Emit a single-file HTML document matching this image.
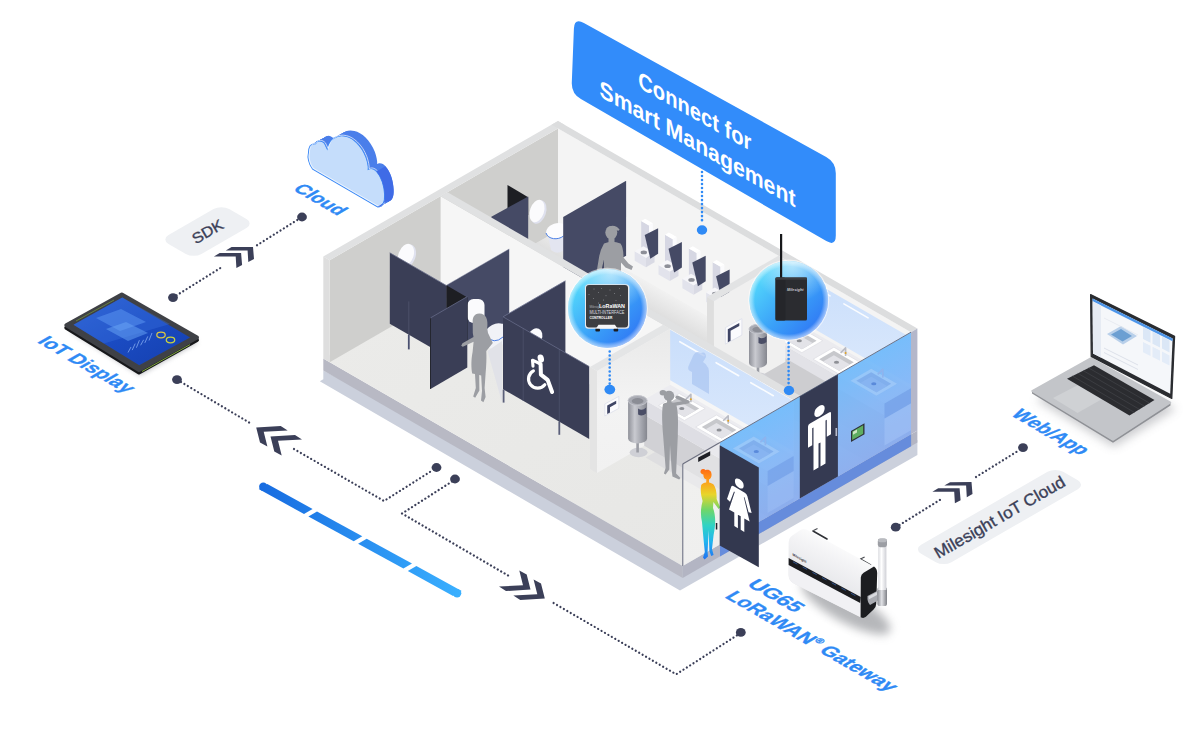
<!DOCTYPE html>
<html lang="en"><head><meta charset="utf-8"><title>Connect for Smart Management</title><style>html,body{margin:0;padding:0;background:#fff}body{width:1199px;height:736px;overflow:hidden;position:relative}svg{display:block;position:absolute;left:0;top:0}text{font-family:"Liberation Sans",Arial,sans-serif}</style></head><body><svg width="1199" height="736" viewBox="0 0 1199 736"><defs><linearGradient id="gFloor" x1="0" y1="0" x2="1" y2="1"><stop offset="0" stop-color="#ececea"/><stop offset="1" stop-color="#e6e6e4"/></linearGradient>
<linearGradient id="gMenFloor" gradientUnits="userSpaceOnUse" x1="638.2" y1="276.7" x2="622.2" y2="304.4"><stop offset="0" stop-color="#f1f1f1"/><stop offset="1" stop-color="#d7d7d7"/></linearGradient>
<linearGradient id="gMirror" x1="0" y1="0" x2="0" y2="1"><stop offset="0" stop-color="#c9defb"/><stop offset="1" stop-color="#dce9fc"/></linearGradient>
<linearGradient id="gCan3" x1="0" y1="0" x2="1" y2="0"><stop offset="0" stop-color="#8f9199"/><stop offset="0.35" stop-color="#c9cad0"/><stop offset="0.7" stop-color="#a4a6ae"/><stop offset="1" stop-color="#85878f"/></linearGradient>
<linearGradient id="gS1" x1="0" y1="0" x2="0" y2="1"><stop offset="0" stop-color="#e9e9e9"/><stop offset="0.5" stop-color="#f3f3f3"/><stop offset="1" stop-color="#f1f1f1"/></linearGradient>
<linearGradient id="gCan5" x1="0" y1="0" x2="1" y2="0"><stop offset="0" stop-color="#8f9199"/><stop offset="0.35" stop-color="#c9cad0"/><stop offset="0.7" stop-color="#a4a6ae"/><stop offset="1" stop-color="#85878f"/></linearGradient>
<linearGradient id="gGlass" gradientUnits="userSpaceOnUse" x1="910.5" y1="332.5" x2="954.6" y2="409"><stop offset="0" stop-color="#6fbafb" stop-opacity="0.92"/><stop offset="0.5" stop-color="#7db3f7" stop-opacity="0.88"/><stop offset="1" stop-color="#86abf0" stop-opacity="0.9"/></linearGradient>
<linearGradient id="gThermal" gradientUnits="userSpaceOnUse" x1="0" y1="469" x2="0" y2="560"><stop offset="0" stop-color="#ff6a13"/><stop offset="0.12" stop-color="#ff9a1a"/><stop offset="0.28" stop-color="#e8d52a"/><stop offset="0.45" stop-color="#6fd66a"/><stop offset="0.62" stop-color="#2fd3c4"/><stop offset="0.8" stop-color="#22b4f0"/><stop offset="1" stop-color="#1f6ff0"/></linearGradient>
<linearGradient id="gBub" x1="0.1" y1="0.15" x2="0.9" y2="0.9"><stop offset="0" stop-color="#55dcfc"/><stop offset="0.55" stop-color="#3aa0f8"/><stop offset="1" stop-color="#2f74f4"/></linearGradient>
<radialGradient id="gBubHi" cx="0.5" cy="0.5" r="0.5"><stop offset="0.86" stop-color="#fff" stop-opacity="0"/><stop offset="0.93" stop-color="#fff" stop-opacity="0.3"/><stop offset="1" stop-color="#fff" stop-opacity="0.55"/></radialGradient>
<radialGradient id="gBubTop" cx="0.55" cy="0.04" r="0.5"><stop offset="0" stop-color="#fff" stop-opacity="0.6"/><stop offset="1" stop-color="#fff" stop-opacity="0"/></radialGradient>
<linearGradient id="gBar" gradientUnits="userSpaceOnUse" x1="259" y1="0" x2="461" y2="0"><stop offset="0" stop-color="#176be0"/><stop offset="1" stop-color="#3ab0ff"/></linearGradient>
<filter id="fBlur6" x="-30%" y="-30%" width="160%" height="160%"><feGaussianBlur stdDeviation="5"/></filter>
<filter id="fBlur3" x="-30%" y="-30%" width="160%" height="160%"><feGaussianBlur stdDeviation="2.5"/></filter>
<linearGradient id="gTab" x1="0" y1="0" x2="1" y2="1"><stop offset="0" stop-color="#2a5fd0"/><stop offset="0.5" stop-color="#1a4bc2"/><stop offset="1" stop-color="#153fae"/></linearGradient>
<linearGradient id="gUgBody" gradientUnits="userSpaceOnUse" x1="846" y1="540" x2="824" y2="584"><stop offset="0" stop-color="#ffffff"/><stop offset="0.45" stop-color="#f3f3f5"/><stop offset="1" stop-color="#e6e7ea"/></linearGradient>
<linearGradient id="gAnt" x1="0" y1="0" x2="1" y2="0"><stop offset="0" stop-color="#dcdde1"/><stop offset="0.4" stop-color="#ffffff"/><stop offset="1" stop-color="#cfd0d6"/></linearGradient>
<linearGradient id="gMetal" x1="0" y1="0" x2="1" y2="0"><stop offset="0" stop-color="#8b8d93"/><stop offset="0.45" stop-color="#e1e2e6"/><stop offset="1" stop-color="#7f8187"/></linearGradient></defs><polygon points="319.8,381.3 680,590.5 917.4,455 917.4,440 683,560 323.3,370.5 323.3,379.3" fill="#cbd0dc" />
<polygon points="323.3,358.5 682.7,566 682.7,578 323.3,370.5" fill="#b8b9c4" />
<polygon points="682.7,566 917.4,430.5 917.4,442.5 682.7,578" fill="#b3b5c3" />
<polygon points="558,223 917.4,430.5 682.7,566 323.3,358.5" fill="url(#gFloor)" />
<polygon points="558,230.4 911,434.2 800.5,498 447.5,294.2" fill="#efefee" />
<polygon points="558,230.4 778.5,357.7 741.6,379 521.1,251.7" fill="url(#gMenFloor)" />
<polygon points="558,128.4 329.7,260.2 329.7,362.2 558,230.4" fill="#cfcfcd" />
<polygon points="558,128.4 911,332.2 911,434.2 558,230.4" fill="#f4f4f4" />
<polygon points="558,121 564.4,124.7 329.7,260.2 323.3,256.5" fill="#e0e1e2" />
<polygon points="558,121 917.4,328.5 911,332.2 551.6,124.7" fill="#dcddde" />
<polygon points="323.3,256.5 329.7,260.2 329.7,362.2 323.3,358.5" fill="#dedede" />
<ellipse cx="538.5" cy="212" rx="7.5" ry="12" fill="#dfe1ee" transform="rotate(18 538.5 212)"/>
<ellipse cx="537" cy="211" rx="7" ry="11.5" fill="#fbfbfd" transform="rotate(18 537 211)"/>
<polygon points="507.5,185 528.2,197.3 528.2,215 507.5,215" fill="#1d1e23" />
<polygon points="491.3,216.7 528.2,196.6 528.2,245 491.3,224" fill="#454a65" />
<path d="M548,236 L551,250 Q557,255 563.5,250.5 L563.5,236 Z" fill="#e3e5f0"/>
<path d="M546,233 C546,226 556,221 563.5,224 L563.5,236 C558,240.5 548,239.5 546,233 Z" fill="#fcfcfe"/>
<path d="M546,233 C548,239.5 558,240.5 563.5,236" fill="none" stroke="#4a7fe6" stroke-width="1"/>
<polygon points="626.1,180.7 563.2,217 563.2,292 626.1,255.7" fill="#454a65" />
<polygon points="641.2,220.9 649,225.4 649,257.4 641.2,252.9" fill="#d6d7e3" />
<polygon points="652.9,223.2 649,225.4 649,257.4 652.9,255.2" fill="#fbfbfd" />
<polygon points="645.1,218.7 652.9,223.2 649,225.4 641.2,220.9" fill="#ffffff" />
<polygon points="634.7,251.2 646,257.7 646,267.2 634.7,260.7" fill="#e2e3ec" />
<polygon points="654.6,252.7 646,257.7 646,267.2 654.6,262.2" fill="#d9dae4" />
<polygon points="643.4,246.2 654.6,252.7 646,257.7 634.7,251.2" fill="#f6f6f9" />
<ellipse cx="643.8" cy="252.4" rx="3.2" ry="1.9" fill="#8d8f98"/>
<polygon points="644.7,234.9 658.1,228.2 658.1,253.7 650.3,258.7" fill="#454a65" />
<polygon points="665,234.7 672.8,239.2 672.8,271.2 665,266.7" fill="#d6d7e3" />
<polygon points="676.7,236.9 672.8,239.2 672.8,271.2 676.7,268.9" fill="#fbfbfd" />
<polygon points="668.9,232.4 676.7,236.9 672.8,239.2 665,234.7" fill="#ffffff" />
<polygon points="658.5,264.9 669.8,271.4 669.8,280.9 658.5,274.4" fill="#e2e3ec" />
<polygon points="678.5,266.4 669.8,271.4 669.8,280.9 678.5,275.9" fill="#d9dae4" />
<polygon points="667.2,259.9 678.5,266.4 669.8,271.4 658.5,264.9" fill="#f6f6f9" />
<ellipse cx="667.6" cy="266.2" rx="3.2" ry="1.9" fill="#8d8f98"/>
<polygon points="668.5,248.7 681.9,241.9 681.9,267.4 674.1,272.4" fill="#454a65" />
<polygon points="688.9,248.4 696.7,252.9 696.7,284.9 688.9,280.4" fill="#d6d7e3" />
<polygon points="700.5,250.7 696.7,252.9 696.7,284.9 700.5,282.7" fill="#fbfbfd" />
<polygon points="692.8,246.2 700.5,250.7 696.7,252.9 688.9,248.4" fill="#ffffff" />
<polygon points="682.4,278.7 693.6,285.2 693.6,294.7 682.4,288.2" fill="#e2e3ec" />
<polygon points="702.3,280.2 693.6,285.2 693.6,294.7 702.3,289.7" fill="#d9dae4" />
<polygon points="691,273.7 702.3,280.2 693.6,285.2 682.4,278.7" fill="#f6f6f9" />
<ellipse cx="691.5" cy="279.9" rx="3.2" ry="1.9" fill="#8d8f98"/>
<polygon points="692.3,262.4 705.7,255.7 705.7,281.2 697.9,286.2" fill="#454a65" />
<polygon points="712.7,262.2 720.5,266.7 720.5,298.7 712.7,294.2" fill="#d6d7e3" />
<polygon points="724.4,264.4 720.5,266.7 720.5,298.7 724.4,296.4" fill="#fbfbfd" />
<polygon points="716.6,259.9 724.4,264.4 720.5,266.7 712.7,262.2" fill="#ffffff" />
<polygon points="706.2,292.4 717.4,298.9 717.4,308.4 706.2,301.9" fill="#e2e3ec" />
<polygon points="726.1,293.9 717.4,298.9 717.4,308.4 726.1,303.4" fill="#d9dae4" />
<polygon points="714.8,287.4 726.1,293.9 717.4,298.9 706.2,292.4" fill="#f6f6f9" />
<ellipse cx="715.3" cy="293.7" rx="3.2" ry="1.9" fill="#8d8f98"/>
<polygon points="716.1,276.2 729.6,269.4 729.6,294.9 721.8,299.9" fill="#454a65" />
<g fill="#9c9ea3"><ellipse cx="611.3" cy="232.6" rx="6" ry="6.6"/><path d="M606,228.5 q5,-4.5 11,-1.5 l2.6,2.6 l-1,1.2 l-6,-1 z"/><rect x="608.5" y="237" width="6" height="6"/><path d="M604,243.5 q8,-3.5 16.5,0 q3,4 3,14 l5,6 l4.5,3 l-1.5,3.5 l-6,-2.5 l-4.5,-5 l0,12 l-17,0 l0,-15 l-2,8 l-0.5,8 l-3,0 l-1.5,-6 l2,-12 q1,-7 5,-14 z"/></g>
<polygon points="793.6,269.9 910.6,337.4 910.6,384.4 793.6,316.9" fill="url(#gMirror)" />
<line x1="804" y1="280.9" x2="830" y2="295.9" stroke="#ffffff" stroke-width="1.6" stroke-linecap="round" opacity="0.9"/>
<line x1="843.9" y1="303.9" x2="868.1" y2="317.9" stroke="#ffffff" stroke-width="1.6" stroke-linecap="round" opacity="0.9"/>
<polygon points="758.9,377 884.5,449.5 800.5,498 674.9,425.5" fill="#dddddd" />
<polygon points="758.9,377 884.5,449.5 865.4,460.5 739.9,388" fill="#d2d2d4" />
<polygon points="758.9,331 884.5,403.5 884.5,449.5 758.9,377" fill="#cdcdd0" />
<polygon points="911,388.2 884.5,403.5 884.5,449.5 911,434.2" fill="#c9cad2" />
<polygon points="785.4,315.7 911,388.2 884.5,403.5 758.9,331" fill="#ebebef" />
<polygon points="758.9,331 884.5,403.5 884.5,415.5 758.9,343" fill="#e2e2e7" />
<polygon points="796.7,325.7 822.7,340.7 801.9,352.7 775.9,337.7" fill="#ffffff" stroke="#dcdde3" stroke-width="0.7"/>
<polygon points="796.7,329.2 816.6,340.7 801.9,349.2 782,337.7" fill="#c7c8cc" />
<polygon points="796.7,333.7 812.7,342.9 801.9,349.2 785.9,339.9" fill="#e3e3e8" />
<ellipse cx="799.3" cy="340.7" rx="2.6" ry="1.5" fill="#8e9096"/>
<path d="M808.4,334.4 l0,-8 l-5,5" fill="none" stroke="#b9bbc4" stroke-width="1.6" stroke-linejoin="round"/>
<circle cx="808.4" cy="331.4" r="1" fill="#e0a325"/>
<polygon points="833.9,347.2 859.9,362.2 839.1,374.2 813.1,359.2" fill="#ffffff" stroke="#dcdde3" stroke-width="0.7"/>
<polygon points="833.9,350.7 853.8,362.2 839.1,370.7 819.2,359.2" fill="#c7c8cc" />
<polygon points="833.9,355.2 849.9,364.4 839.1,370.7 823.1,361.4" fill="#e3e3e8" />
<ellipse cx="836.5" cy="362.2" rx="2.6" ry="1.5" fill="#8e9096"/>
<path d="M845.6,355.9 l0,-8 l-5,5" fill="none" stroke="#b9bbc4" stroke-width="1.6" stroke-linejoin="round"/>
<circle cx="845.6" cy="352.9" r="1" fill="#e0a325"/>
<polygon points="871.2,368.7 897.1,383.7 876.4,395.7 850.4,380.7" fill="#ffffff" stroke="#dcdde3" stroke-width="0.7"/>
<polygon points="871.2,372.2 891.1,383.7 876.4,392.2 856.4,380.7" fill="#c7c8cc" />
<polygon points="871.2,376.7 887.2,385.9 876.4,392.2 860.3,382.9" fill="#e3e3e8" />
<ellipse cx="873.8" cy="383.7" rx="2.6" ry="1.5" fill="#8e9096"/>
<path d="M882.8,377.4 l0,-8 l-5,5" fill="none" stroke="#b9bbc4" stroke-width="1.6" stroke-linejoin="round"/>
<circle cx="882.8" cy="374.4" r="1" fill="#e0a325"/>
<polygon points="785.4,259.7 713.9,301 713.9,403 785.4,361.7" fill="#f0f0f0" />
<polygon points="707,297 713.9,301 713.9,403 707,399" fill="#dedede" />
<polygon points="778.5,255.7 785.4,259.7 713.9,301 707,297" fill="#e2e3e4" />
<g transform="translate(725.4 327.6)"><polygon points="0,0 16.5,-9 16.5,7.5 0,16.5" fill="#fbfbfd" stroke="#dcdeea" stroke-width="0.8" stroke-linejoin="round"/><polygon points="2.4,1.6 13.9,-4.6 13.9,-1.6 5.2,3.2 5.2,13.1 2.4,14.6" fill="#3f4565"/></g>
<ellipse cx="759" cy="377" rx="8.5" ry="4.4" fill="#cfd0d6"/>
<rect x="756.7" y="365" width="2.6" height="12" fill="#9a9ca4"/>
<path d="M749,329 v34 a9,4.7 0 0 0 18,0 v-34 z" fill="url(#gCan3)"/>
<ellipse cx="758" cy="329" rx="9" ry="4.7" fill="#a9abb3" stroke="#c4c5cc" stroke-width="1"/>
<ellipse cx="758" cy="329.5" rx="5.6" ry="2.8" fill="#8b8d95"/>
<path d="M758.5,337 q4,3 8,-1 l0,6 q-4,3.5 -8,1 z" fill="#4a4e66"/>
<polygon points="440.6,196.2 793.6,400 793.6,502 440.6,298.2" fill="#f6f6f6" />
<polygon points="447.5,192.2 800.5,396 793.6,400 440.6,196.2" fill="#e0e1e2" />
<polygon points="669.8,329.4 793.2,400.7 793.2,451.2 669.8,379.9" fill="url(#gMirror)" />
<line x1="679.8" y1="341.7" x2="704" y2="355.7" stroke="#ffffff" stroke-width="1.6" stroke-linecap="round" opacity="0.9"/>
<line x1="716.1" y1="362.7" x2="738.7" y2="375.7" stroke="#ffffff" stroke-width="1.6" stroke-linecap="round" opacity="0.9"/>
<line x1="750.8" y1="382.7" x2="773.3" y2="395.7" stroke="#ffffff" stroke-width="1.6" stroke-linecap="round" opacity="0.9"/>
<path d="M693,356 q3,-6 8,-3 q5,-2 5,4 l-3,5 q7,4 6,14 l0,18 l-17,-10 l0,-12 q-6,-2 -3,-7 z" fill="#a9c5f1" opacity="0.7"/>
<ellipse cx="407.5" cy="256" rx="8" ry="12" fill="#e0e2ef" transform="rotate(20 407.5 256)"/>
<ellipse cx="406" cy="255" rx="7.5" ry="11.5" fill="#fbfbfd" transform="rotate(20 406 255)"/>
<polygon points="456,278 461,281 456,285" fill="#ffffff"/>
<polygon points="509.2,249 446.2,285.4 446.2,356.2 509.2,319.9" fill="#454a65" />
<rect x="467.5" y="299" width="17" height="24" rx="6" fill="#fbfbfd"/>
<path d="M486,330 q8,-9 17,-6 l0,20 q-9,9 -17,2 z" fill="#f1f2f7"/>
<path d="M486,336 q8,9 17,1" fill="none" stroke="#4c7fe6" stroke-width="1"/>
<polygon points="389.8,252.8 446.2,285.4 446.2,356.2 389.8,323.7" fill="#3a3e56" />
<line x1="408.8" y1="334.7" x2="408.8" y2="349.4" stroke="#4a5070" stroke-width="1.8" />
<line x1="408.8" y1="301.4" x2="408.8" y2="334.7" stroke="#50556f" stroke-width="0.8" />
<polygon points="446.4,285.2 467.5,297.5 467.5,343.1 446.4,330.9" fill="#1d1e23" />
<polygon points="467.3,296.6 430.5,317.9 430.5,388.9 467.3,367.6" fill="#3a3e56" />
<line x1="430.5" y1="317.9" x2="430.5" y2="388.9" stroke="#24262f" stroke-width="1" />
<polygon points="565.4,280.8 503,316.8 503,389.2 565.4,353.2" fill="#3c4059" />
<line x1="565.4" y1="280.8" x2="503" y2="316.8" stroke="#6d7290" stroke-width="0.8" />
<ellipse cx="535" cy="337" rx="7" ry="9" fill="#fbfbfd" transform="rotate(25 535 337)"/>
<polygon points="487.5,351 502,341 502,402.5" fill="#e1e2e8" />
<path fill="#9c9ea3" d="M479.2,313.4 C474,313.4 472.5,318 472.7,322 L472.8,333 L473.5,337 L462.5,343.2 L461.2,345.8 L462.8,346.8 L473.6,341.8 L472.6,352 C471,360 471.2,368 472.2,373.4 L475,374 L475.8,388 L473.2,396.5 L475.2,397.8 L479.4,390.5 L479.2,375 L481.2,375.5 L482,391 L481,400.5 L483.4,402.2 L485.6,397 L484.6,388 L485.6,373.4 C486.4,365 486.6,358 486.3,351 L492.8,343 L488,333 L487.2,328 C488.2,320 486.5,313.4 479.2,313.4 Z"/>
<polygon points="503,316.8 589.2,366.5 589.2,439 503,389.2" fill="#3a3e56" />
<line x1="503.6" y1="389.6" x2="503.6" y2="402.6" stroke="#5a5f7a" stroke-width="1.8" />
<line x1="559.3" y1="421.8" x2="559.3" y2="434.8" stroke="#5a5f7a" stroke-width="1.8" />
<line x1="523.2" y1="328.4" x2="523.2" y2="400.9" stroke="#4d526c" stroke-width="0.8" />
<line x1="559.3" y1="349.2" x2="559.3" y2="421.8" stroke="#4d526c" stroke-width="0.8" />
<g fill="none" stroke="#fff" stroke-linecap="round" stroke-linejoin="round"><ellipse cx="540.8" cy="358.5" rx="3.1" ry="4.1" fill="#fff" stroke="none" transform="rotate(-15 540.8 358.5)"/><path d="M533,366.2 L532.5,360.2 L539.6,363.5" stroke-width="3.1"/><path d="M540.6,364 L540.9,374.6 L547.6,379.8 L552.1,392" stroke-width="4"/><path d="M533.4,370.8 A9.2,9.2 0 1 0 544.8,384.8" stroke-width="3.2"/></g>
<line x1="503" y1="316.8" x2="589.2" y2="366.5" stroke="#666b88" stroke-width="0.8" />
<line x1="389.8" y1="252.8" x2="446.2" y2="285.4" stroke="#666b88" stroke-width="0.8" />
<line x1="446.2" y1="285.4" x2="509.2" y2="249" stroke="#70759290" stroke-width="0.8" />
<line x1="467.3" y1="296.6" x2="430.5" y2="317.9" stroke="#666b88" stroke-width="0.8" />
<polygon points="670.2,328.8 597,371 597,473 670.2,430.8" fill="url(#gS1)" />
<polygon points="590,367 597,371 597,473 590,469" fill="#e4e4e4" />
<polygon points="663.2,324.8 670.2,328.8 597,371 590,367" fill="#e4e5e6" />
<g transform="translate(604.8 404)"><polygon points="0,0 14,-7.6 14,4.4 0,12" fill="#fbfbfd" stroke="#dcdeea" stroke-width="0.8" stroke-linejoin="round"/><polygon points="2.4,1.6 11.4,-3.3 11.4,-0.3 5.2,3.2 5.2,8.6 2.4,10.1" fill="#3f4565"/></g>
<polygon points="655,452 767.6,517 758.1,522.5 645.5,457.5" fill="#dedee0" />
<polygon points="644.2,414.8 767.6,486 767.6,517 644.2,445.8" fill="#d1d1d5" />
<polygon points="793.6,471 767.6,486 767.6,517 793.6,502" fill="#c6c7cf" />
<polygon points="644.2,399.8 767.6,471 767.6,486 644.2,414.8" fill="#dedee4" />
<polygon points="793.6,456 767.6,471 767.6,486 793.6,471" fill="#d5d6dd" />
<polygon points="670.2,384.8 793.6,456 767.6,471 644.2,399.8" fill="#ececf0" />
<polygon points="679.2,393.5 705.2,408.5 684.4,420.5 658.5,405.5" fill="#ffffff" stroke="#dcdde3" stroke-width="0.7"/>
<polygon points="679.2,397 699.2,408.5 684.4,417 664.5,405.5" fill="#c7c8cc" />
<polygon points="679.2,401.5 695.3,410.8 684.4,417 668.4,407.8" fill="#e3e3e8" />
<ellipse cx="681.8" cy="408.5" rx="2.6" ry="1.5" fill="#8e9096"/>
<path d="M690.9,402.2 l0,-8 l-5,5" fill="none" stroke="#b9bbc4" stroke-width="1.6" stroke-linejoin="round"/>
<circle cx="690.9" cy="399.2" r="1" fill="#e0a325"/>
<polygon points="716.5,415 742.5,430 721.7,442 695.7,427" fill="#ffffff" stroke="#dcdde3" stroke-width="0.7"/>
<polygon points="716.5,418.5 736.4,430 721.7,438.5 701.8,427" fill="#c7c8cc" />
<polygon points="716.5,423 732.5,432.2 721.7,438.5 705.7,429.2" fill="#e3e3e8" />
<ellipse cx="719.1" cy="430" rx="2.6" ry="1.5" fill="#8e9096"/>
<path d="M728.2,423.8 l0,-8 l-5,5" fill="none" stroke="#b9bbc4" stroke-width="1.6" stroke-linejoin="round"/>
<circle cx="728.2" cy="420.8" r="1" fill="#e0a325"/>
<polygon points="753.7,436.5 779.7,451.5 758.9,463.5 732.9,448.5" fill="#ffffff" stroke="#dcdde3" stroke-width="0.7"/>
<polygon points="753.7,440 773.6,451.5 758.9,460 739,448.5" fill="#c7c8cc" />
<polygon points="753.7,444.5 769.7,453.8 758.9,460 742.9,450.8" fill="#e3e3e8" />
<ellipse cx="756.3" cy="451.5" rx="2.6" ry="1.5" fill="#8e9096"/>
<path d="M765.4,445.2 l0,-8 l-5,5" fill="none" stroke="#b9bbc4" stroke-width="1.6" stroke-linejoin="round"/>
<circle cx="765.4" cy="442.2" r="1" fill="#e0a325"/>
<ellipse cx="638.6" cy="452.5" rx="9" ry="4.7" fill="#cfd0d6"/>
<rect x="636.3" y="440.5" width="2.6" height="12" fill="#9a9ca4"/>
<path d="M628.1,400.5 v38 a9.5,4.9 0 0 0 19,0 v-38 z" fill="url(#gCan5)"/>
<ellipse cx="637.6" cy="400.5" rx="9.5" ry="4.9" fill="#a9abb3" stroke="#c4c5cc" stroke-width="1"/>
<ellipse cx="637.6" cy="401" rx="5.9" ry="3" fill="#8b8d95"/>
<path d="M638.1,408.5 q4,3 8,-1 l0,6 q-4,3.5 -8,1 z" fill="#4a4e66"/>
<g fill="#9c9ea3" transform="translate(670 0) scale(1.22 1) translate(-670 0)"><circle cx="664.2" cy="392.8" r="2.7"/><ellipse cx="669.2" cy="395.9" rx="4.3" ry="5.1"/><rect x="667.6" y="399" width="3.6" height="4.5"/><path d="M672,404.6 L684.6,401.9 L676,397.2" fill="none" stroke="#9c9ea3" stroke-width="3.3" stroke-linejoin="round" stroke-linecap="round"/><path d="M664.3,404 C663,412 663.6,424 664.4,436 L666.4,468 L665,473.5 L666.4,474.4 L669.4,469.5 L670,445 L671.4,470 L672,476.5 L677.5,479.6 L678.6,478 L675,473.4 L676.4,436 C676.6,424 677,412 675,404 C672,401.6 667,401.6 664.3,404 Z"/></g>
<polygon points="911.1,332.2 720,442.5 720,544.5 911.1,434.2" fill="url(#gGlass)" />
<polygon points="911.1,434.2 720,544.5 720,556.5 911.1,446.2" fill="#668cdc" />
<polygon points="871.2,368.7 897.1,383.7 876.4,395.7 850.4,380.7" fill="#a9cdf8" opacity="0.55"/>
<polygon points="871.2,372.2 891.1,383.7 876.4,392.2 856.4,380.7" fill="#6f9fe6" opacity="0.55"/>
<polygon points="871.2,376.7 887.2,385.9 876.4,392.2 860.3,382.9" fill="#8ab6f2" opacity="0.7"/>
<ellipse cx="873.8" cy="383.7" rx="2.6" ry="1.5" fill="#4f7fd6" opacity="0.8"/>
<path d="M882.8,377.4 l0,-8 l-5,5" fill="none" stroke="#8fb4ee" stroke-width="1.6" stroke-linejoin="round"/>
<polygon points="753.7,436.5 779.7,451.5 758.9,463.5 732.9,448.5" fill="#a9cdf8" opacity="0.55"/>
<polygon points="753.7,440 773.6,451.5 758.9,460 739,448.5" fill="#6f9fe6" opacity="0.55"/>
<polygon points="753.7,444.5 769.7,453.8 758.9,460 742.9,450.8" fill="#8ab6f2" opacity="0.7"/>
<ellipse cx="756.3" cy="451.5" rx="2.6" ry="1.5" fill="#4f7fd6" opacity="0.8"/>
<path d="M765.4,445.2 l0,-8 l-5,5" fill="none" stroke="#8fb4ee" stroke-width="1.6" stroke-linejoin="round"/>
<polygon points="911,403.2 884.5,418.5 884.5,445.5 911,430.2" fill="#a5c6f8" opacity="0.5"/>
<polygon points="793.6,471 767.6,486 767.6,513 793.6,498" fill="#a5c6f8" opacity="0.35"/>
<polygon points="911,388.2 884.5,403.5 884.5,418.5 911,403.2" fill="#6f9ae6" opacity="0.55"/>
<polygon points="793.6,456 767.6,471 767.6,486 793.6,471" fill="#6f9ae6" opacity="0.55"/>
<polygon points="917.4,328.5 911,332.2 911,434.2 917.4,430.5" fill="#b4b7ca" />
<line x1="911" y1="332.2" x2="719.9" y2="442.5" stroke="#6d7387" stroke-width="1" />
<polygon points="837.9,374.6 799.8,396.6 799.8,498.6 837.9,476.6" fill="#353a52" />
<g transform="translate(819.5 438) skewY(-30)" fill="#fff"><circle cx="0" cy="-27" r="5.2"/><path d="M-9.5,-20 h19 a2,2 0 0 1 2,2 v21 h-4.2 v-17 h-1.3 v43 h-5 v-24 h-2 v24 h-5 v-43 h-1.3 v17 h-4.2 v-21 a2,2 0 0 1 2,-2 z"/></g>
<rect x="835.5" y="428" width="1.6" height="8" fill="#b9bccb"/>
<g transform="translate(851 431) skewY(-30)"><rect x="0" y="0" width="13.5" height="11" fill="#2e3138"/><rect x="1.2" y="1.2" width="11" height="8.6" fill="#5fae62"/><rect x="2" y="2" width="4" height="3" fill="#cfe6c4"/></g>
<polygon points="719.9,442.5 682.7,464 682.7,566 719.9,544.5" fill="#ffffff" opacity="0.35"/>
<line x1="682.7" y1="464" x2="682.7" y2="566" stroke="#8a8d9b" stroke-width="1.4" />
<line x1="682.7" y1="464" x2="719.9" y2="442.5" stroke="#6d7080" stroke-width="1.2" />
<polygon points="698.2,457.5 710.2,451.3 710.2,455.5 698.2,461.9" fill="#1f2026"/>
<g fill="url(#gThermal)"><rect x="699" y="469" width="22" height="91" fill="none"/><path d="M703.2,469 a2.7,2.7 0 1 0 0.01,0 Z M707.4,469.8 C702,469.8 702.4,479.4 706.4,479.6 L706.2,482.6 C704,482.6 702.4,483.6 701.2,485 C700,492 701.5,497 702.6,501 C700.6,508 700.4,515 702,522 L703.6,540 L704.8,552 L703,557.6 L704.6,559.4 L708,556.6 L707.6,552 L708.6,530 L709.4,551 L711.2,556 L713.6,555 L712,549 L713.6,535 C715.6,525 716,516 713,508 L713.4,502 L718.6,509 L720.2,507.6 L716.6,499 C716.8,493 716,488 713.6,484.6 C712,483.4 710.4,482.8 709,482.6 L709,479.6 C712.6,478.6 712.8,469.8 707.4,469.8 Z"/></g>
<rect x="715.8" y="523" width="1.5" height="6.5" fill="#23252d"/>
<polygon points="719.7,445.2 758.8,467.6 758.8,567.2 719.7,545.5" fill="#33384f" />
<g transform="translate(739.3 503) skewY(30)" fill="#fff"><circle cx="0" cy="-19.5" r="4.4"/><path d="M-5.5,-13.5 h11 q2,0 2.6,2 l4.2,14.5 l-3,1 l-4,-12.5 h-0.8 l5.8,21 h-5.3 v13.5 h-3.6 v-13.5 h-2.8 v13.5 h-3.6 v-13.5 h-5.3 l5.8,-21 h-0.8 l-4,12.5 l-3,-1 l4.2,-14.5 q0.6,-2 2.6,-2 z"/></g>
<path d="M573.9,28.7 Q574.3,17.7 583.9,23 L826.2,156.9 Q835.8,162.2 835.8,173.2 L835.8,235.6 Q835.8,246.6 826.3,241.1 L580.9,99.1 Q571.4,93.6 571.8,82.6 Z" fill="#328cfa" />
<g transform="translate(572 20) skewY(29.6)"><text x="122.8" y="29.6" text-anchor="middle" font-size="24" font-weight="700" fill="#fff" textLength="113" lengthAdjust="spacingAndGlyphs">Connect for</text><text x="125.5" y="60.6" text-anchor="middle" font-size="24" font-weight="700" fill="#fff" textLength="196" lengthAdjust="spacingAndGlyphs">Smart Management</text></g>
<path d="M702,172 L702,224" fill="none" stroke="#2f8af5" stroke-width="2.6" stroke-linecap="round" stroke-dasharray="0.01 4.0"/>
<ellipse cx="702" cy="230" rx="5.2" ry="4.7" fill="#2f8af5"/>
<circle cx="607.4" cy="308.4" r="40.599999999999994" fill="#ffffff" opacity="0.55"/>
<circle cx="607.4" cy="308.4" r="39.3" fill="url(#gBub)"/>
<circle cx="607.4" cy="308.4" r="39.3" fill="url(#gBubTop)"/>
<circle cx="607.4" cy="308.4" r="39.3" fill="url(#gBubHi)"/>
<g><rect x="585" y="284.2" width="44.4" height="44.6" rx="3.6" fill="#e9eaee"/><rect x="586" y="285" width="42" height="42.4" rx="3" fill="#3c3d41"/><rect x="595.4" y="328.6" width="4.6" height="2.8" rx="1" fill="#1d1d20"/><rect x="613.6" y="328.6" width="4.6" height="2.8" rx="1" fill="#1d1d20"/><path d="M596,328.6 h21.5 l-2.6,-3.8 h-16.4 z" fill="#f6f6f8"/><circle cx="594" cy="289" r="0.45" fill="#b9babf"/><circle cx="601.5" cy="288.6" r="0.45" fill="#b9babf"/><circle cx="610" cy="290" r="0.45" fill="#b9babf"/><circle cx="619.5" cy="288.6" r="0.45" fill="#b9babf"/><circle cx="589" cy="294.5" r="0.45" fill="#b9babf"/><circle cx="598.5" cy="292.4" r="0.45" fill="#b9babf"/><circle cx="606" cy="295.8" r="0.45" fill="#b9babf"/><circle cx="614.6" cy="293.4" r="0.45" fill="#b9babf"/><circle cx="620.4" cy="295.4" r="0.45" fill="#b9babf"/><circle cx="593.4" cy="298.4" r="0.45" fill="#b9babf"/><circle cx="603.4" cy="300" r="0.45" fill="#b9babf"/><circle cx="616" cy="300.4" r="0.45" fill="#b9babf"/><circle cx="598.6" cy="303" r="0.45" fill="#b9babf"/><text x="625" y="307.8" text-anchor="end" font-size="5.4" font-weight="700" fill="#fff">LoRaWAN</text><text x="589.4" y="314.4" font-size="4.8" fill="#dcdde0" textLength="35" lengthAdjust="spacingAndGlyphs">MULTI-INTERFACE</text><text x="589.4" y="318.8" font-size="3.3" font-weight="700" fill="#fff">CONTROLLER</text><text x="589.4" y="307.8" font-size="3.1" fill="#a9aab0">Milesight</text></g>
<path d="M609.7,351.5 L609.7,384" fill="none" stroke="#2f8af5" stroke-width="2.6" stroke-linecap="round" stroke-dasharray="0.01 4.0"/>
<ellipse cx="609.8" cy="389.6" rx="5.4" ry="4.8" fill="#2f8af5"/>
<circle cx="788.7" cy="300.2" r="40.599999999999994" fill="#ffffff" opacity="0.55"/>
<circle cx="788.7" cy="300.2" r="39.3" fill="url(#gBub)"/>
<circle cx="788.7" cy="300.2" r="39.3" fill="url(#gBubTop)"/>
<circle cx="788.7" cy="300.2" r="39.3" fill="url(#gBubHi)"/>
<g><rect x="780" y="234" width="2.2" height="45" fill="#17181b"/><rect x="775.5" y="277.5" width="31.5" height="43" rx="1.5" fill="#2b2c30"/><rect x="775.5" y="277.5" width="10" height="43" rx="1.5" fill="#25262a"/><rect x="775.5" y="277.5" width="31.5" height="2.2" fill="#3b3c41"/><text x="803.5" y="290.5" text-anchor="end" font-size="3.8" font-style="italic" font-weight="700" fill="#c9cacf">Milesight</text></g>
<path d="M788.6,343 L788.6,385" fill="none" stroke="#2f8af5" stroke-width="2.6" stroke-linecap="round" stroke-dasharray="0.01 4.0"/>
<ellipse cx="789" cy="390.5" rx="5.2" ry="4.7" fill="#2f8af5"/>
<g transform="translate(308.4 113.7) skewY(30)"><path d="M4,53 C0,50 -1,44 0,40 C0,33 3,28 7,26 C9,21 13,19 16,20.5 L18.7,24.6 C21,14 28,4 37,1.2 C44,-1.5 53,1 57.5,10.5 C59,14 60,18 59.8,21 C63,17.5 66,17.5 68,18.5 C73,21 76,29 76.2,37 C76.5,44 75,50 69,53.3 Z" transform="translate(9 -10.5)" fill="#4b7fea"/><path d="M4,53 C0,50 -1,44 0,40 C0,33 3,28 7,26 C9,21 13,19 16,20.5 L18.7,24.6 C21,14 28,4 37,1.2 C44,-1.5 53,1 57.5,10.5 C59,14 60,18 59.8,21 C63,17.5 66,17.5 68,18.5 C73,21 76,29 76.2,37 C76.5,44 75,50 69,53.3 Z" transform="translate(8.1 -9.5)" fill="#4b7fea"/><path d="M4,53 C0,50 -1,44 0,40 C0,33 3,28 7,26 C9,21 13,19 16,20.5 L18.7,24.6 C21,14 28,4 37,1.2 C44,-1.5 53,1 57.5,10.5 C59,14 60,18 59.8,21 C63,17.5 66,17.5 68,18.5 C73,21 76,29 76.2,37 C76.5,44 75,50 69,53.3 Z" transform="translate(7.2 -8.4)" fill="#4b7fea"/><path d="M4,53 C0,50 -1,44 0,40 C0,33 3,28 7,26 C9,21 13,19 16,20.5 L18.7,24.6 C21,14 28,4 37,1.2 C44,-1.5 53,1 57.5,10.5 C59,14 60,18 59.8,21 C63,17.5 66,17.5 68,18.5 C73,21 76,29 76.2,37 C76.5,44 75,50 69,53.3 Z" transform="translate(6.3 -7.4)" fill="#4b7fea"/><path d="M4,53 C0,50 -1,44 0,40 C0,33 3,28 7,26 C9,21 13,19 16,20.5 L18.7,24.6 C21,14 28,4 37,1.2 C44,-1.5 53,1 57.5,10.5 C59,14 60,18 59.8,21 C63,17.5 66,17.5 68,18.5 C73,21 76,29 76.2,37 C76.5,44 75,50 69,53.3 Z" transform="translate(5.4 -6.3)" fill="#4b7fea"/><path d="M4,53 C0,50 -1,44 0,40 C0,33 3,28 7,26 C9,21 13,19 16,20.5 L18.7,24.6 C21,14 28,4 37,1.2 C44,-1.5 53,1 57.5,10.5 C59,14 60,18 59.8,21 C63,17.5 66,17.5 68,18.5 C73,21 76,29 76.2,37 C76.5,44 75,50 69,53.3 Z" transform="translate(4.5 -5.2)" fill="#4b7fea"/><path d="M4,53 C0,50 -1,44 0,40 C0,33 3,28 7,26 C9,21 13,19 16,20.5 L18.7,24.6 C21,14 28,4 37,1.2 C44,-1.5 53,1 57.5,10.5 C59,14 60,18 59.8,21 C63,17.5 66,17.5 68,18.5 C73,21 76,29 76.2,37 C76.5,44 75,50 69,53.3 Z" transform="translate(3.6 -4.2)" fill="#4b7fea"/><path d="M4,53 C0,50 -1,44 0,40 C0,33 3,28 7,26 C9,21 13,19 16,20.5 L18.7,24.6 C21,14 28,4 37,1.2 C44,-1.5 53,1 57.5,10.5 C59,14 60,18 59.8,21 C63,17.5 66,17.5 68,18.5 C73,21 76,29 76.2,37 C76.5,44 75,50 69,53.3 Z" transform="translate(2.7 -3.2)" fill="#4b7fea"/><path d="M4,53 C0,50 -1,44 0,40 C0,33 3,28 7,26 C9,21 13,19 16,20.5 L18.7,24.6 C21,14 28,4 37,1.2 C44,-1.5 53,1 57.5,10.5 C59,14 60,18 59.8,21 C63,17.5 66,17.5 68,18.5 C73,21 76,29 76.2,37 C76.5,44 75,50 69,53.3 Z" transform="translate(1.8 -2.1)" fill="#4b7fea"/><path d="M4,53 C0,50 -1,44 0,40 C0,33 3,28 7,26 C9,21 13,19 16,20.5 L18.7,24.6 C21,14 28,4 37,1.2 C44,-1.5 53,1 57.5,10.5 C59,14 60,18 59.8,21 C63,17.5 66,17.5 68,18.5 C73,21 76,29 76.2,37 C76.5,44 75,50 69,53.3 Z" transform="translate(0.9 -1.1)" fill="#4b7fea"/><path d="M4,53 C0,50 -1,44 0,40 C0,33 3,28 7,26 C9,21 13,19 16,20.5 L18.7,24.6 C21,14 28,4 37,1.2 C44,-1.5 53,1 57.5,10.5 C59,14 60,18 59.8,21 C63,17.5 66,17.5 68,18.5 C73,21 76,29 76.2,37 C76.5,44 75,50 69,53.3 Z" fill="#c5ddfb" stroke="#3d8af6" stroke-width="1"/><path d="M4,53 C0,50 -1,44 0,40 C0,33 3,28 7,26 C9,21 13,19 16,20.5 L18.7,24.6 C21,14 28,4 37,1.2 C44,-1.5 53,1 57.5,10.5 C59,14 60,18 59.8,21 C63,17.5 66,17.5 68,18.5 C73,21 76,29 76.2,37 C76.5,44 75,50 69,53.3 Z" transform="translate(1 -1.2)" fill="none" stroke="#ffffff" stroke-width="0.7" opacity="0.85"/></g>
<g transform="translate(308.4 113.7) skewY(30)"><path d="M69,53.3 C75,50 76.5,44 76.2,37 C76,29 73,21 68,18.5 l9,-10.5 C82,10.5 85,18.5 85.2,26.5 C85.5,33.5 84,39.5 78,42.8 Z" fill="#3f6be6"/></g>
<text transform="matrix(0.866 0.5 -0.866 0.5 292 189.5)" font-size="19.5" font-weight="700" fill="#2f8af5" stroke="#2f8af5" stroke-width="0.35" stroke-linejoin="round" text-anchor="start" textLength="53" lengthAdjust="spacingAndGlyphs">Cloud</text>
<text transform="matrix(0.866 0.5 -0.866 0.5 36.5 342)" font-size="20" font-weight="700" fill="#2f8af5" stroke="#2f8af5" stroke-width="0.35" stroke-linejoin="round" text-anchor="start" textLength="103" lengthAdjust="spacingAndGlyphs">IoT Display</text>
<text transform="matrix(0.866 0.5 -0.866 0.5 1010 415)" font-size="20" font-weight="700" fill="#2f8af5" stroke="#2f8af5" stroke-width="0.35" stroke-linejoin="round" text-anchor="start" textLength="81" lengthAdjust="spacingAndGlyphs">Web/App</text>
<text transform="matrix(0.866 0.5 -0.866 0.5 746 585)" font-size="20" font-weight="700" fill="#2f8af5" stroke="#2f8af5" stroke-width="0.35" stroke-linejoin="round" text-anchor="start" textLength="56" lengthAdjust="spacingAndGlyphs">UG65</text>
<text transform="matrix(0.866 0.5 -0.866 0.5 724 597)" font-size="20" font-weight="700" fill="#2f8af5" stroke="#2f8af5" stroke-width="0.35" textLength="190" lengthAdjust="spacingAndGlyphs">LoRaWAN<tspan font-size="10" dy="-8">®</tspan><tspan dy="8"> Gateway</tspan></text>
<g transform="matrix(0.866 -0.5 0.866 0.5 207.5 231.5)"><rect x="-35" y="-19" width="70" height="38" rx="9" fill="#eef0f3"/></g>
<text transform="translate(207.5 231.5) rotate(-30)" text-anchor="middle" font-size="15" font-weight="400" fill="#3b3f58" stroke="#3b3f58" stroke-width="0.35" textLength="33.5" lengthAdjust="spacingAndGlyphs" dy="5.4">SDK</text>
<g transform="matrix(0.866 -0.5 0.866 0.5 999.5 517)"><rect x="-82" y="-17.5" width="164" height="35" rx="9" fill="#eef0f3"/></g>
<text transform="translate(999.5 517) rotate(-30)" text-anchor="middle" font-size="16.5" font-weight="400" fill="#3b3f58" stroke="#3b3f58" stroke-width="0.35" textLength="148" lengthAdjust="spacingAndGlyphs" dy="5.9">Milesight IoT Cloud</text>
<polygon points="225.8,250.4 231.6,247 253,246.9 254,258.9 248.3,262 247.6,250.4" fill="#3b3f58" />
<polygon points="213.9,256.5 219.7,253.1 241.1,253 242.1,265 236.4,268.1 235.7,256.5" fill="#3b3f58" />
<polygon points="944.3,485.6 950.1,482.2 971.5,482.1 972.5,494.1 966.8,497.2 966.1,485.6" fill="#3b3f58" />
<polygon points="932.4,491.7 938.2,488.3 959.6,488.2 960.6,500.2 954.9,503.3 954.2,491.7" fill="#3b3f58" />
<polygon points="256.2,427.4 280.7,426 287.7,430.5 263.7,431.7 267.4,446.6 260,442.5" fill="#3b3f58" />
<polygon points="270.5,436.4 295,435 302,439.5 278,440.7 281.7,455.6 274.3,451.5" fill="#3b3f58" />
<polygon points="544.8,598.6 520.3,600 513.3,595.5 537.3,594.3 533.6,579.4 541,583.5" fill="#3b3f58" />
<polygon points="530.5,589.6 506,591 499,586.5 523,585.3 519.3,570.4 526.7,574.5" fill="#3b3f58" />
<ellipse cx="302" cy="217" rx="4.9" ry="4.4" fill="#3b3f58"/>
<ellipse cx="173" cy="297.6" rx="4.9" ry="4.4" fill="#3b3f58"/>
<path d="M176.5,295.4 L222,267" fill="none" stroke="#3b3f58" stroke-width="2.25" stroke-linecap="round" stroke-dasharray="0.01 3.95"/>
<path d="M257,245.2 L298.5,219.2" fill="none" stroke="#3b3f58" stroke-width="2.25" stroke-linecap="round" stroke-dasharray="0.01 3.95"/>
<ellipse cx="177" cy="379.6" rx="4.9" ry="4.4" fill="#3b3f58"/>
<path d="M181,382 L250,423" fill="none" stroke="#3b3f58" stroke-width="2.25" stroke-linecap="round" stroke-dasharray="0.01 3.95"/>
<path d="M294,449 L384,501 L433,470" fill="none" stroke="#3b3f58" stroke-width="2.25" stroke-linecap="round" stroke-dasharray="0.01 3.95"/>
<ellipse cx="436.5" cy="467.5" rx="4.9" ry="4.4" fill="#3b3f58"/>
<ellipse cx="455" cy="479" rx="4.9" ry="4.4" fill="#3b3f58"/>
<path d="M452,481.5 L402,513.5 L509,576" fill="none" stroke="#3b3f58" stroke-width="2.25" stroke-linecap="round" stroke-dasharray="0.01 3.95"/>
<path d="M553.6,603 L676.2,674.3 L737.5,635" fill="none" stroke="#3b3f58" stroke-width="2.25" stroke-linecap="round" stroke-dasharray="0.01 3.95"/>
<ellipse cx="740.8" cy="632.4" rx="4.9" ry="4.4" fill="#3b3f58"/>
<ellipse cx="895.7" cy="527.2" rx="4.9" ry="4.4" fill="#3b3f58"/>
<ellipse cx="1023" cy="447.6" rx="4.9" ry="4.4" fill="#3b3f58"/>
<path d="M899.5,525 L943,498" fill="none" stroke="#3b3f58" stroke-width="2.25" stroke-linecap="round" stroke-dasharray="0.01 3.95"/>
<path d="M976,477 L1019.5,450" fill="none" stroke="#3b3f58" stroke-width="2.25" stroke-linecap="round" stroke-dasharray="0.01 3.95"/>
<g fill="url(#gBar)">
<polygon points="267.3,484.1 312.6,509 304,514 258.7,489.1" fill="url(#gBar)" />
<polygon points="317,511.4 362.3,536.3 353.7,541.3 308.4,516.4" fill="url(#gBar)" />
<polygon points="366.7,538.7 412,563.6 403.4,568.6 358.1,543.7" fill="url(#gBar)" />
<polygon points="416.4,566 461.7,590.9 453.1,595.9 407.8,571" fill="url(#gBar)" />
<circle cx="263.3" cy="486.8" r="4.2"/><circle cx="457.1" cy="593.2" r="4.2"/></g>
<polygon points="70,331 140,375 198,342 128,300" fill="#7d8088" opacity="0.55" filter="url(#fBlur3)"/>
<polygon points="121.8,296.9 66.3,327.7 139,372.5 197,340.1" fill="#17181b" stroke="#17181b" stroke-width="4" stroke-linejoin="round"/>
<polygon points="121.8,294.4 66.3,325.2 139,370 197,337.6" fill="#3f4146" stroke="#3f4146" stroke-width="4" stroke-linejoin="round"/>
<polygon points="122.3,297.5 73.5,324.8 139.2,365.2 190,337.4" fill="url(#gTab)" />
<polygon points="122.3,297.5 73.5,324.8 104,343.6 170,324" fill="#3c74e0" opacity="0.35"/>
<polygon points="96,318 120,331 146,322 121,309" fill="#5a93f0" opacity="0.55"/>
<polygon points="106,329 128,341 148,333 126,322" fill="#6aa6f6" opacity="0.5"/>
<ellipse cx="161" cy="335" rx="4.2" ry="2.8" fill="none" stroke="#d9c545" stroke-width="1.3"/>
<ellipse cx="170.5" cy="340" rx="4.2" ry="2.8" fill="none" stroke="#c9d23f" stroke-width="1.3"/>
<line x1="128" y1="352.5" x2="131" y2="347" stroke="#8fb6f5" stroke-width="0.9" opacity="0.8"/>
<line x1="132.2" y1="350.1" x2="135.2" y2="343.6" stroke="#8fb6f5" stroke-width="0.9" opacity="0.8"/>
<line x1="136.4" y1="347.7" x2="139.4" y2="340.2" stroke="#8fb6f5" stroke-width="0.9" opacity="0.8"/>
<line x1="140.6" y1="345.3" x2="143.6" y2="339.8" stroke="#8fb6f5" stroke-width="0.9" opacity="0.8"/>
<line x1="144.8" y1="342.9" x2="147.8" y2="336.4" stroke="#8fb6f5" stroke-width="0.9" opacity="0.8"/>
<line x1="149" y1="340.5" x2="152" y2="333" stroke="#8fb6f5" stroke-width="0.9" opacity="0.8"/>
<line x1="142" y1="371.5" x2="190" y2="344.6" stroke="#7fa63c" stroke-width="1" />
<line x1="76" y1="321" x2="114" y2="300" stroke="#7fa63c" stroke-width="0.9" opacity="0.7"/>
<polygon points="1036,400 1114,447 1176,409 1100,366" fill="#8e9096" opacity="0.45" filter="url(#fBlur6)"/>
<polygon points="1032,393.6 1113,442.8 1170.5,405.5 1170.5,402.5 1113,439.5 1032,390.5" fill="#8f9196" />
<polygon points="1032,391 1091,358 1170.5,402.5 1113,440" fill="#c3c5c9" stroke="#c3c5c9" stroke-width="1.5" stroke-linejoin="round"/>
<polygon points="1053,398 1079,384.5 1103,398.5 1077.5,413" fill="#cfd1d4" />
<polygon points="1067,378.7 1094,365.2 1154.5,400 1129.5,415.6" fill="#2b2c30" />
<line x1="1072.4" y1="376" x2="1134.5" y2="412.5" stroke="#47484d" stroke-width="0.6" />
<line x1="1077.8" y1="373.3" x2="1139.5" y2="409.4" stroke="#47484d" stroke-width="0.6" />
<line x1="1083.2" y1="370.6" x2="1144.5" y2="406.2" stroke="#47484d" stroke-width="0.6" />
<line x1="1088.6" y1="367.9" x2="1149.5" y2="403.1" stroke="#47484d" stroke-width="0.6" />
<polygon points="1090.6,294.6 1174.6,336.4 1171.8,398.5 1091.2,356.4" fill="#2a2c30" stroke="#2a2c30" stroke-width="1.2" stroke-linejoin="round"/>
<polygon points="1092.6,298.4 1172.6,338.4 1170.2,393.8 1093,353.6" fill="#f5f7fa" />
<polygon points="1092.6,298.4 1172.6,338.4 1172.5,341.2 1092.6,301.2" fill="#4d96ea" />
<polygon points="1092.6,301.2 1101,305.4 1101,357.6 1093,353.6" fill="#e6ebf3" />
<polygon points="1107,334 1121,326 1137,336 1123,344.5" fill="#b9d0ea" />
<polygon points="1111,334.5 1121,329 1132,336 1122.5,341.5" fill="#6c9fd2" />
<polygon points="1143,327 1150.5,330.8 1150.5,342.8 1143,339" fill="#dbe7f6" />
<polygon points="1143,342 1150.5,345.8 1150.5,356 1143,352.2" fill="#e3ecf8" />
<polygon points="1152.5,331.8 1160,335.6 1160,347.6 1152.5,343.8" fill="#dbe7f6" />
<polygon points="1152.5,346.8 1160,350.6 1160,360.8 1152.5,357" fill="#e3ecf8" />
<polygon points="1162,336.6 1169.5,340.4 1169.5,352.4 1162,348.6" fill="#dbe7f6" />
<polygon points="1162,351.6 1169.5,355.4 1169.5,365.6 1162,361.8" fill="#e3ecf8" />
<line x1="1104" y1="348" x2="1138" y2="365" stroke="#d5dbe4" stroke-width="0.8" />
<line x1="1104" y1="352.5" x2="1138" y2="369.5" stroke="#d5dbe4" stroke-width="0.8" />
<line x1="1104" y1="318" x2="1138" y2="335" stroke="#e3e7ee" stroke-width="0.8" />
<ellipse cx="846" cy="607" rx="50" ry="15" transform="rotate(29 846 607)" fill="#6d6f76" opacity="0.5" filter="url(#fBlur6)"/>
<line x1="813" y1="531" x2="827" y2="539" stroke="#2f3136" stroke-width="1.6" stroke-linecap="round"/>
<line x1="813.5" y1="530.5" x2="817.5" y2="528.4" stroke="#4a4c52" stroke-width="1.1" />
<line x1="860.5" y1="559.2" x2="870.5" y2="565" stroke="#2f3136" stroke-width="1.6" stroke-linecap="round"/>
<line x1="861" y1="558.8" x2="864.6" y2="556.9" stroke="#4a4c52" stroke-width="1.1" />
<path d="M788.6,543 Q788.6,537.5 793,535 L800.5,530 Q803.5,528 806.8,529.8 L874,566.4 Q877.2,568.6 877.2,573 L876.2,604 Q876,607.5 873.6,609.6 L866,616.8 Q863.6,618.8 860.6,617.2 L794.2,583.8 Q788.6,580.6 788.6,575 Z" fill="url(#gUgBody)"/>
<path d="M788.6,564.7 L860,602.7 L860.6,617.2 L794.2,583.8 Q788.6,580.6 788.6,575 Z" fill="#f1f1f4"/>
<polygon points="788.6,558 860.8,597 860.2,603 788.6,564.9" fill="#1b1c1f" />
<line x1="793" y1="561.8" x2="859" y2="597.6" stroke="#3d7be0" stroke-width="0.7" opacity="0.8" stroke-dasharray="5 6"/>
<text transform="matrix(0.88 0.48 0 1 792.5 555.6)" font-size="3.6" font-weight="700" fill="#2a2b30">Milesight</text>
<path d="M860.8,577.5 Q861,574.4 863.6,572.8 L874,566.4 Q877.2,568.6 877.2,573 L876.2,604 Q876,607.5 873.6,609.6 L866,616.8 Q863.6,618.8 860.6,617.2 Z" fill="#1c1d20"/>
<path d="M867.5,596 l10.5,-5.5 l0,10 l-8,4.5 q-3,-3 -2.5,-9 z" fill="#a9abb1"/>
<path d="M868.5,596.5 l8.5,-4.4 l0,3 l-8,4.2 z" fill="#d9dade"/>
<rect x="877.4" y="587" width="9.6" height="19" rx="2.6" fill="url(#gMetal)"/>
<rect x="878.2" y="544" width="8.2" height="46" fill="url(#gAnt)"/>
<rect x="877.8" y="538.6" width="9.2" height="8.6" rx="2.4" fill="#9c9ea4"/>
<ellipse cx="882.4" cy="540.4" rx="4.4" ry="1.9" fill="#b9bbc0"/></svg></body></html>
